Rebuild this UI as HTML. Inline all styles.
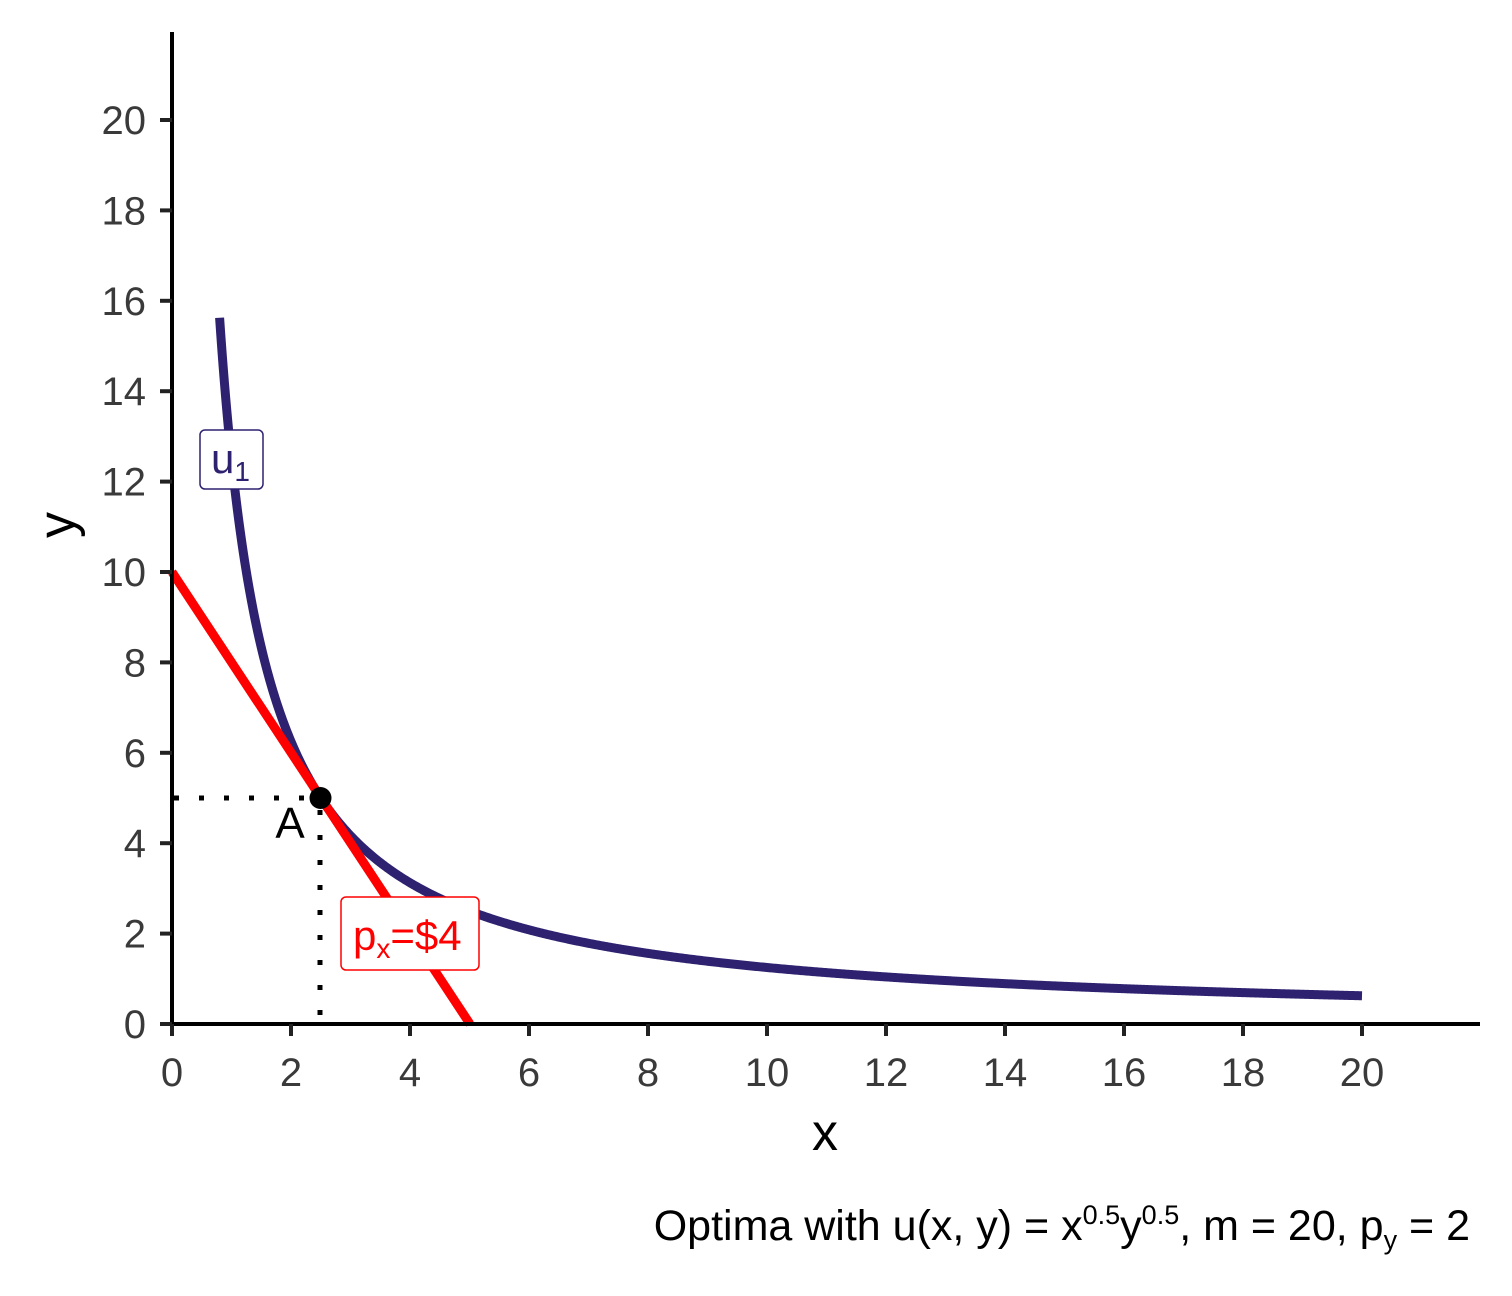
<!DOCTYPE html>
<html><head><meta charset="utf-8"><style>
html,body{margin:0;padding:0;background:#fff;}
svg{display:block;}
text{font-family:"Liberation Sans",sans-serif;}
</style></head><body>
<svg id="s" width="1512" height="1296" viewBox="0 0 1512 1296" xmlns="http://www.w3.org/2000/svg">
<rect width="1512" height="1296" fill="#fff"/>
<path id="curve" d="" fill="none" stroke="#2e2270" stroke-width="9" stroke-linecap="butt"/>
<line x1="172" y1="572" x2="470" y2="1024" stroke="#ff0000" stroke-width="9"/>
<line x1="174" y1="798" x2="320" y2="798" stroke="#000" stroke-width="5" stroke-dasharray="5 20"/>
<line x1="320" y1="810" x2="320" y2="1024" stroke="#000" stroke-width="5" stroke-dasharray="5 20"/>
<circle cx="320.5" cy="798" r="11" fill="#000"/>
<text x="290" y="838" font-size="44" text-anchor="middle" fill="#000">A</text>
<rect x="200" y="430" width="63" height="59" rx="5" fill="#fff" stroke="#2e2270" stroke-width="1.5"/>
<text x="211" y="473" font-size="42" fill="#2e2270">u<tspan font-size="28" dy="8">1</tspan></text>
<rect x="341" y="897" width="138" height="73" rx="5" fill="#fff" stroke="#ff0000" stroke-width="1.5"/>
<text x="353" y="950" font-size="42" fill="#ff0000">p<tspan font-size="28" dy="8">x</tspan><tspan dy="-8">=$4</tspan></text>
<line x1="172" y1="32" x2="172" y2="1026" stroke="#000" stroke-width="4"/>
<line x1="170" y1="1024" x2="1480" y2="1024" stroke="#000" stroke-width="4"/>
<g id="ticks" stroke="#222" stroke-width="4"></g>
<g id="labs" font-size="40" fill="#3a3a3a"></g>
<text x="825" y="1150" font-size="52" text-anchor="middle" fill="#000">x</text>
<text transform="translate(74,525) rotate(-90)" font-size="52" text-anchor="middle" fill="#000">y</text>
<text x="1470" y="1240" font-size="43" text-anchor="end" fill="#000">Optima with u(x, y) = x<tspan font-size="27" dy="-16">0.5</tspan><tspan dy="16">y</tspan><tspan font-size="27" dy="-16">0.5</tspan><tspan dy="16">, m = 20, p</tspan><tspan font-size="27" dy="9">y</tspan><tspan dy="-9"> = 2</tspan></text>
</svg>
<script>
var X=function(x){return 172+59.5*x},Y=function(y){return 1024-45.2*y};
var d="";for(var x=0.8;x<=20.0001;x+=0.02){d+=(d?"L":"M")+X(x).toFixed(2)+","+Y(12.5/x).toFixed(2);}
document.getElementById("curve").setAttribute("d",d);
var t="",l="";
for(var v=0;v<=20;v+=2){
t+='<line x1="'+X(v)+'" y1="1024" x2="'+X(v)+'" y2="1036"/>';
t+='<line x1="160" y1="'+Y(v)+'" x2="172" y2="'+Y(v)+'"/>';
l+='<text x="'+X(v)+'" y="1086" text-anchor="middle">'+v+'</text>';
l+='<text x="146" y="'+(Y(v)+14)+'" text-anchor="end">'+v+'</text>';
}
document.getElementById("ticks").innerHTML=t;
document.getElementById("labs").innerHTML=l;
</script>
</body></html>
